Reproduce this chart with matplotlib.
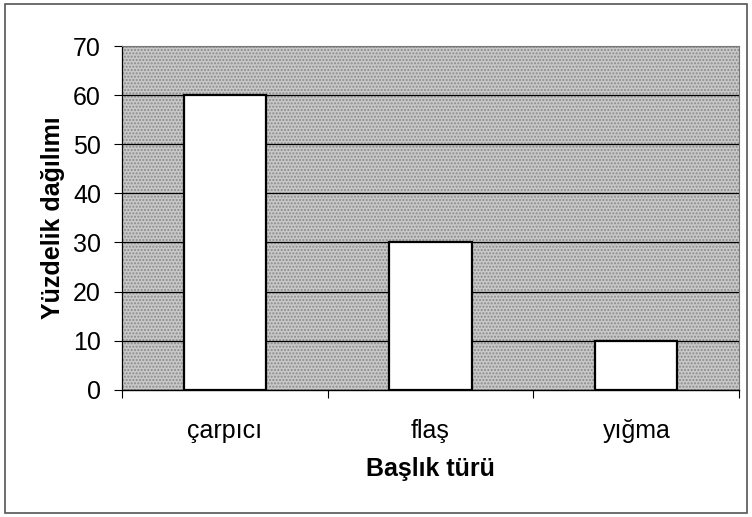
import numpy as np
import matplotlib.pyplot as plt
from matplotlib.patches import Rectangle

categories = ['çarpıcı', 'flaş', 'yığma']
values = [60, 30, 10]
yticks = [0, 10, 20, 30, 40, 50, 60, 70]

plt.rcParams['font.family'] = ['Liberation Sans', 'DejaVu Sans']

fig = plt.figure(figsize=(7.52, 5.17), dpi=100)
ax = fig.add_axes([0.162, 0.246, 0.821, 0.665])

ax.set_facecolor('#c8c8c8')
bg = Rectangle((0, 0), 1, 1, transform=ax.transAxes, facecolor='none',
               edgecolor='#8a8a8a', hatch='.....', linewidth=0, zorder=0)
ax.add_patch(bg)

x = np.arange(len(categories))
ax.bar(x, values, width=0.4, color='white', edgecolor='black', linewidth=1.6, zorder=3)

ax.set_xlim(-0.5, len(categories) - 0.5)
ax.set_ylim(0, 70)
ax.set_yticks(yticks)
ax.yaxis.grid(True, color='black', linewidth=0.9, zorder=1)
ax.set_axisbelow(True)

ax.set_xticks(x)
ax.set_xticklabels(categories, fontsize=18)
ax.set_xticks(np.arange(len(categories) + 1) - 0.5, minor=True)
ax.tick_params(axis='x', which='major', length=0, pad=21)
ax.tick_params(axis='x', which='minor', length=6, width=0.8, direction='out')
ax.tick_params(axis='y', labelsize=18, length=6, width=0.8, direction='out', pad=9)

for s in ['top', 'right']:
    ax.spines[s].set_color('#777777')
    ax.spines[s].set_linewidth(0.8)
ax.spines['left'].set_linewidth(0.9)
ax.spines['bottom'].set_linewidth(1.0)

ax.set_xlabel('Başlık türü', fontsize=18, fontweight='bold', labelpad=10)
ax.set_ylabel('Yüzdelik dağılımı', fontsize=18, fontweight='bold', labelpad=6)

fig.patches.append(Rectangle((0.007, 0.008), 0.986, 0.984, transform=fig.transFigure,
                             fill=False, edgecolor='#555555', linewidth=1.2))

fig.savefig('out.png', dpi=100)
